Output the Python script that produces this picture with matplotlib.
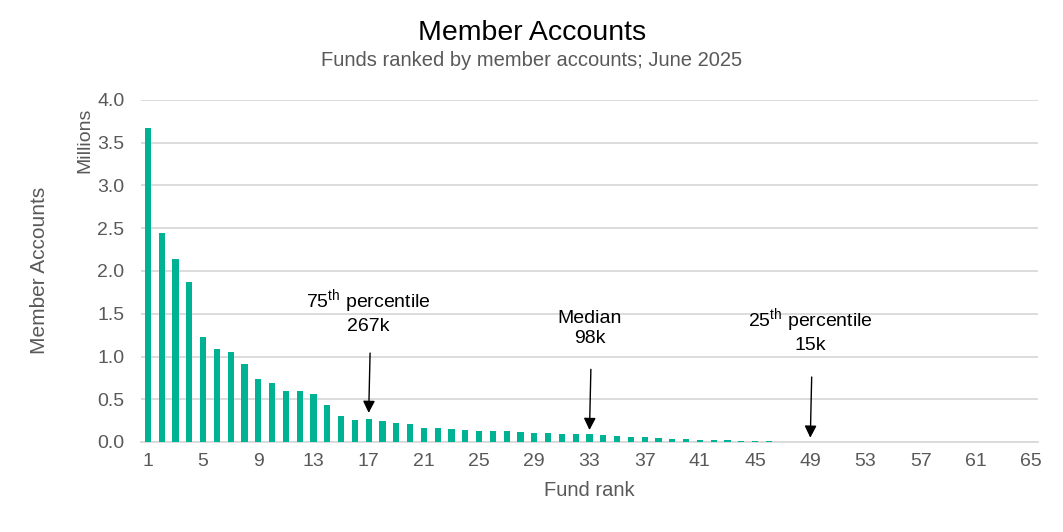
import matplotlib
matplotlib.use("Agg")
import matplotlib.pyplot as plt

plt.rcParams['font.family'] = ['Liberation Sans', 'DejaVu Sans']
plt.rcParams['mathtext.fontset'] = 'custom'
plt.rcParams['mathtext.rm'] = 'Liberation Sans'
plt.rcParams['mathtext.it'] = 'Liberation Sans'

ranks = list(range(1, 66))
members_m = [3.673, 2.444, 2.140, 1.871, 1.228, 1.088, 1.053, 0.912, 0.737, 0.690,
             0.596, 0.596, 0.561, 0.437, 0.304, 0.262, 0.267, 0.246, 0.226, 0.214,
             0.168, 0.168, 0.156, 0.145, 0.133, 0.133, 0.133, 0.121, 0.109, 0.109,
             0.098, 0.098, 0.098, 0.086, 0.074, 0.062, 0.062, 0.051, 0.039, 0.030,
             0.027, 0.027, 0.018, 0.017, 0.016, 0.016, 0.004, 0.004, 0.0035, 0.003,
             0.003, 0.0025, 0.0025, 0.002, 0.002, 0.002, 0.0015, 0.0015, 0.0012, 0.001,
             0.001, 0.0008, 0.0006, 0.0005, 0.0004]
xticks = list(range(1, 66, 4))

annotations = [
    (17, "75$^{\\mathrm{th}}$ percentile\n267k", 1.53, 1.04, 0.34),
    (33, "Median\n98k", 1.33, 0.85, 0.14),
    (49, "25$^{\\mathrm{th}}$ percentile\n15k", 1.31, 0.76, 0.05),
]

teal = '#00B294'
grey_txt = '#595959'
grid_c = '#D9D9D9'

fig = plt.figure(figsize=(10.63, 5.32), dpi=100)
ax = fig.add_axes([141/1063, 1 - 442/532, (1038-141)/1063, (442-100)/532])

ax.bar(ranks, members_m, width=0.45, color=teal, zorder=3)
ax.set_xlim(0.5, 65.5)
ax.set_ylim(0, 4.0)
ax.set_yticks([i * 0.5 for i in range(9)])
ax.set_yticklabels([f"{i*0.5:.1f}" for i in range(9)])
ax.set_xticks(xticks)
ax.set_xticklabels([str(t) for t in xticks])
ax.grid(axis='y', color=grid_c, linewidth=1.3, zorder=0)
for s in ['top', 'right', 'left']:
    ax.spines[s].set_visible(False)
ax.spines['bottom'].set_color(grid_c)
ax.spines['bottom'].set_linewidth(1.3)
ax.tick_params(axis='both', length=0, labelsize=14, colors=grey_txt)
ax.tick_params(axis='x', pad=8)
ax.tick_params(axis='y', pad=12)

ax.set_xlabel("Fund rank", fontsize=14.5, color=grey_txt, labelpad=8)

for x, label, ty, ys, ye in annotations:
    ax.text(x, ty, label, ha='center', va='center', fontsize=14, color='black',
            linespacing=1.2, zorder=5)
    ax.annotate("", xy=(x, ye), xytext=(x + 0.1, ys),
                arrowprops=dict(arrowstyle='-|>', color='black', lw=1.0,
                                mutation_scale=18, shrinkA=0, shrinkB=0), zorder=5)

fig.text(532/1063, 1 - 33/532, "Member Accounts", ha='center', va='center',
         fontsize=20.5, color='black')
fig.text(532/1063, 1 - 61/532, "Funds ranked by member accounts; June 2025",
         ha='center', va='center', fontsize=14.5, color=grey_txt)
fig.text(85/1063, 1 - 140/532, "Millions", rotation=90, ha='center', va='center',
         fontsize=14, color=grey_txt)
fig.text(40/1063, 1 - 270/532, "Member Accounts", rotation=90, ha='center', va='center',
         fontsize=15, color=grey_txt)

fig.savefig("out.png", dpi=100)
